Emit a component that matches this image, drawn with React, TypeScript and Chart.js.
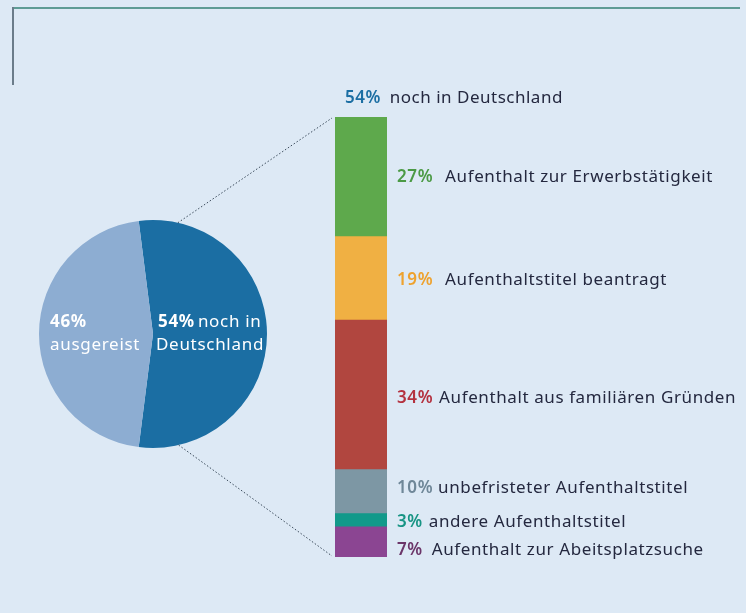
import React, { useEffect, useRef } from "react";
import { Chart, registerables } from "chart.js";

Chart.register(...registerables);

const pieLabels = ["noch in Deutschland", "ausgereist"];
const pieValues = [54, 46];
const pieColors = ["#1b6ea3", "#8dadd2"];

const barLabels = [
  "Aufenthalt zur Erwerbstätigkeit",
  "Aufenthaltstitel beantragt",
  "Aufenthalt aus familiären Gründen",
  "unbefristeter Aufenthaltstitel",
  "andere Aufenthaltstitel",
  "Aufenthalt zur Abeitsplatzsuche",
];
const barValues = [27, 19, 34, 10, 3, 7];
const barColors = ["#5ea94c", "#f0b043", "#b1463f", "#7d97a4", "#12998a", "#8b4592"];
const pctColors = ["#4b9a45", "#eea22e", "#b4313f", "#6f8798", "#179484", "#6b3569"];

const FONT = "'Noto Sans', sans-serif";
const TEXT = "#24283f";

export default function App() {
  const barRef = useRef<HTMLCanvasElement>(null);
  const pieRef = useRef<HTMLCanvasElement>(null);

  useEffect(() => {
    const barLabelPlugin = {
      id: "barLabels",
      afterDraw(chart: any) {
        const ctx = chart.ctx;
        const area = chart.chartArea;
        ctx.save();
        ctx.textBaseline = "middle";
        ctx.letterSpacing = "0.5px";
        // title above bar
        ctx.font = `600 17px ${FONT}`;
        ctx.fillStyle = pieColors[0];
        const tx = area.left + 10;
        const ty = area.top - 19;
        const tp = `${pieValues[0]}%`;
        ctx.fillText(tp, tx, ty);
        const tw = ctx.measureText(tp).width;
        ctx.font = `400 17px ${FONT}`;
        ctx.fillStyle = TEXT;
        ctx.fillText(pieLabels[0], tx + tw + 9, ty);
        const offsets = [1, 3, 4, -3, 3, 9];
        const gaps = [12, 12, 6, 5, 6, 9];
        ctx.letterSpacing = "0.6px";
        chart.data.datasets.forEach((ds: any, i: number) => {
          const meta = chart.getDatasetMeta(i);
          const el = meta.data[0];
          const y = (el.y + el.base) / 2 + offsets[i];
          const x = area.right + 10;
          const p = `${barValues[i]}%`;
          ctx.font = `600 17px ${FONT}`;
          ctx.fillStyle = pctColors[i];
          ctx.fillText(p, x, y);
          const pw = ctx.measureText(p).width;
          ctx.font = `400 17px ${FONT}`;
          ctx.fillStyle = TEXT;
          ctx.fillText(ds.label, x + pw + gaps[i], y);
        });
        ctx.restore();
      },
    };

    const bar = new Chart(barRef.current!, {
      type: "bar",
      data: {
        labels: [""],
        datasets: barLabels.map((l, i) => ({
          label: l,
          data: [barValues[i]],
          backgroundColor: barColors[i],
          borderWidth: 0,
          categoryPercentage: 1,
          barPercentage: 1,
        })),
      },
      options: {
        animation: false,
        responsive: false,
        events: [],
        layout: { padding: { left: 335, right: 359, top: 117, bottom: 56 } },
        plugins: { legend: { display: false }, tooltip: { enabled: false } },
        scales: {
          x: { stacked: true, display: false },
          y: { stacked: true, display: false, reverse: true, min: 0, max: 100 },
        },
      },
      plugins: [barLabelPlugin],
    });

    const pieDecor = {
      id: "pieDecor",
      afterDraw(chart: any) {
        const ctx = chart.ctx;
        const arc = chart.getDatasetMeta(0).data[0];
        const cx = arc.x;
        const cy = arc.y;
        const r = arc.outerRadius;
        const ba = bar.chartArea;
        ctx.save();
        // dotted connector lines
        ctx.strokeStyle = "#3a4a5a";
        ctx.lineWidth = 1;
        ctx.setLineDash([1.5, 2]);
        const a1 = (12.6 * Math.PI) / 180;
        const a2 = (167 * Math.PI) / 180;
        ctx.beginPath();
        ctx.moveTo(cx + r * Math.sin(a1), cy - r * Math.cos(a1));
        ctx.lineTo(ba.left - 3, ba.top + 1);
        ctx.moveTo(cx + r * Math.sin(a2), cy - r * Math.cos(a2));
        ctx.lineTo(ba.left - 3, ba.bottom - 1);
        ctx.stroke();
        ctx.setLineDash([]);
        // labels
        ctx.fillStyle = "#ffffff";
        ctx.textBaseline = "middle";
        ctx.letterSpacing = "0.7px";
        ctx.font = `700 17px ${FONT}`;
        ctx.fillText(`${pieValues[1]}%`, cx - 103, cy - 12);
        ctx.font = `400 17px ${FONT}`;
        ctx.fillText(pieLabels[1], cx - 103, cy + 11);
        ctx.font = `700 17px ${FONT}`;
        const p = `${pieValues[0]}%`;
        ctx.fillText(p, cx + 5, cy - 12);
        const pw = ctx.measureText(p).width;
        ctx.font = `400 17px ${FONT}`;
        ctx.fillText("noch in", cx + 5 + pw + 3, cy - 12);
        ctx.fillText("Deutschland", cx + 3, cy + 11);
        ctx.restore();
      },
    };

    const pie = new Chart(pieRef.current!, {
      type: "pie",
      data: {
        labels: pieLabels,
        datasets: [
          {
            data: pieValues,
            backgroundColor: pieColors,
            borderWidth: 0,
          },
        ],
      },
      options: {
        animation: false,
        responsive: false,
        events: [],
        rotation: -7.2,
        layout: { padding: { left: 39, right: 479, top: 220, bottom: 165 } },
        plugins: { legend: { display: false }, tooltip: { enabled: false } },
      },
      plugins: [pieDecor],
    });

    return () => {
      pie.destroy();
      bar.destroy();
    };
  }, []);

  return (
    <div
      style={{
        position: "absolute",
        left: 0,
        top: 0,
        width: 746,
        height: 613,
        background: "#dde9f5",
        overflow: "hidden",
      }}
    >
      <div style={{ position: "absolute", left: 13, top: 7, width: 727, height: 2, background: "#5f9c95" }} />
      <div style={{ position: "absolute", left: 12, top: 7, width: 2, height: 78, background: "#6b7c8a" }} />
      <canvas ref={pieRef} width={746} height={613} style={{ position: "absolute", left: 0, top: 0 }} />
      <canvas ref={barRef} width={746} height={613} style={{ position: "absolute", left: 0, top: 0 }} />
    </div>
  );
}
